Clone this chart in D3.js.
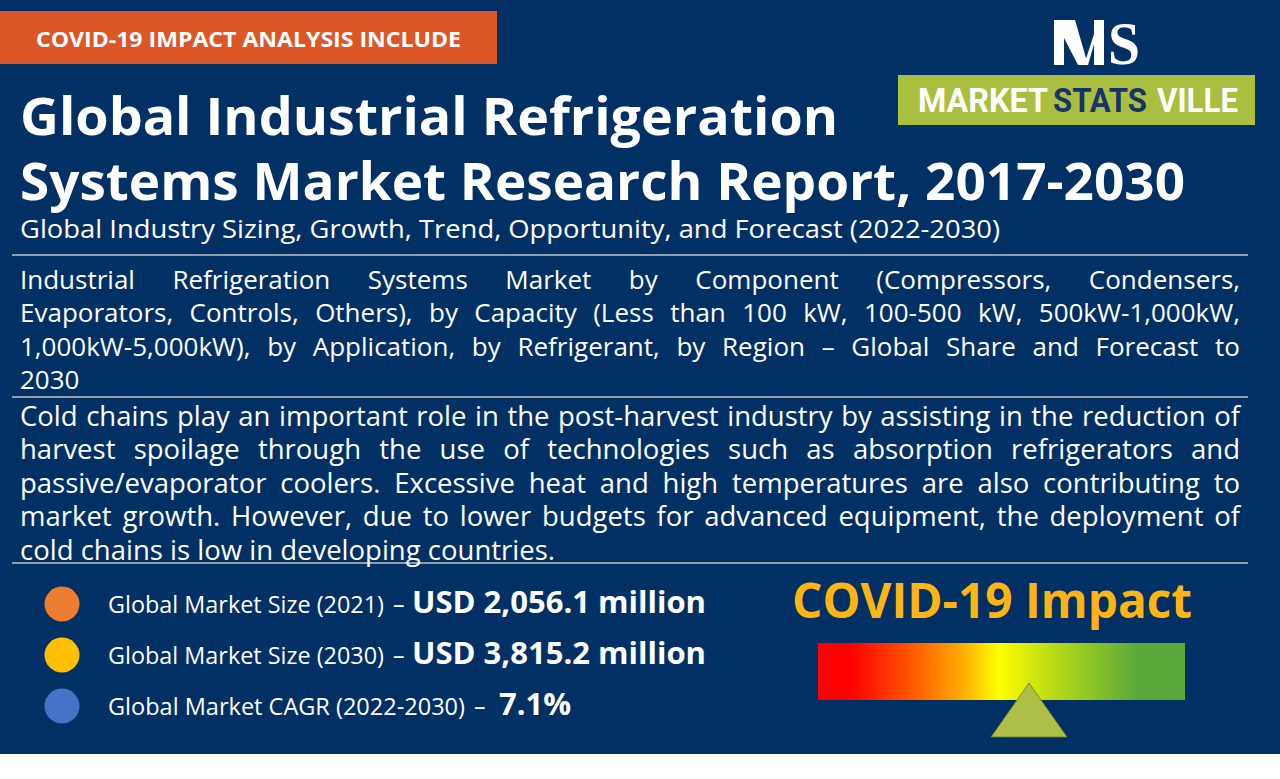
<!DOCTYPE html>
<html><head><meta charset="utf-8">
<script src="https://cdn.jsdelivr.net/npm/d3@7"></script>
<style>
body{margin:0;background:#fff;overflow:hidden}
svg{display:block}
</style>
</head><body>
<svg id="c" width="1280" height="779" font-family="'Open Sans','Noto Sans',sans-serif"></svg>
<script>
// ---------- content ----------
const bannerText = "COVID-19 IMPACT ANALYSIS INCLUDE";
const titleLines = ["Global Industrial Refrigeration", "Systems Market Research Report, 2017-2030"];
const subtitleText = "Global Industry Sizing, Growth, Trend, Opportunity, and Forecast (2022-2030)";
const scopeLines = [
  "Industrial Refrigeration Systems Market by Component (Compressors, Condensers,",
  "Evaporators, Controls, Others), by Capacity (Less than 100 kW, 100-500 kW, 500kW-1,000kW,",
  "1,000kW-5,000kW), by Application, by Refrigerant, by Region \u2013 Global Share and Forecast to",
  "2030"
];
const summaryLines = [
  "Cold chains play an important role in the post-harvest industry by assisting in the reduction of",
  "harvest spoilage through the use of technologies such as absorption refrigerators and",
  "passive/evaporator coolers. Excessive heat and high temperatures are also contributing to",
  "market growth. However, due to lower budgets for advanced equipment, the deployment of",
  "cold chains is low in developing countries."
];
const statLabels = ["Global Market Size (2021)", "Global Market Size (2030)", "Global Market CAGR (2022-2030)"];
const statValues = ["USD 2,056.1 million", "USD 3,815.2 million", "7.1%"];
const statColors = ["#ED7D31", "#FFC000", "#4472C4"];
const impactTitle = "COVID-19 Impact";
const impactStopOffsets = [0, 0.09, 0.24, 0.40, 0.49, 0.63, 0.87, 1];
const impactStopColors = ["#FF0000", "#FF0000", "#FF5000", "#FFB000", "#FFFF00", "#BEDD14", "#58A93A", "#58A93A"];
const impactLevel = 0.575;
const logoWords = ["MARKET", "STATS", "VILLE"];
const logoWordColors = ["#FFFFFF", "#16336A", "#FFFFFF"];

// ---------- drawing ----------
const NAVY = "#013064";
const svg = d3.select("#c");
svg.append("rect").attr("width", 1280).attr("height", 779).attr("fill", "#fff");
svg.append("rect").attr("width", 1280).attr("height", 754).attr("fill", NAVY);

// banner
svg.append("rect").attr("x", 0).attr("y", 11).attr("width", 497).attr("height", 53).attr("fill", "#DD5627");
svg.append("text").attr("x", 36).attr("y", 47).attr("font-size", 22).attr("font-weight", 700)
  .attr("fill", "#fff").attr("textLength", 425).attr("lengthAdjust", "spacingAndGlyphs").text(bannerText);

// logo
const logo = svg.append("g");
const M = logo.append("g").attr("fill", "#fff");
M.append("path").attr("d", d3.line()([[1054,20],[1064,20],[1064,65],[1054,65]]) + "Z");
M.append("path").attr("d", d3.line()([[1064,20],[1075,20],[1088,65],[1078,65],[1064,38]]) + "Z");
M.append("path").attr("d", d3.line()([[1084,65],[1094,34],[1094,44],[1088,65]]) + "Z");
M.append("path").attr("d", d3.line()([[1094,20],[1104,20],[1104,65],[1094,65]]) + "Z");
logo.append("text").attr("x", 1108).attr("y", 64).attr("font-family", "'Liberation Serif','DejaVu Serif',serif")
  .attr("font-size", 62).attr("font-weight", 700).attr("fill", "#fff")
  .attr("textLength", 32).attr("lengthAdjust", "spacingAndGlyphs").text("S");
logo.append("rect").attr("x", 898).attr("y", 75).attr("width", 357).attr("height", 50).attr("fill", "#AABE3F");
const logoX = [918, 1053, 1157], logoW = [130, 94, 81];
logo.selectAll("text.lw").data(logoWords).join("text").attr("class", "lw")
  .attr("x", (d, i) => logoX[i]).attr("y", 112)
  .attr("font-family", "Roboto,'Liberation Sans',sans-serif").attr("font-weight", 700).attr("font-size", 33)
  .attr("fill", (d, i) => logoWordColors[i])
  .attr("textLength", (d, i) => logoW[i]).attr("lengthAdjust", "spacingAndGlyphs").text(d => d);

// title
const titleW = [818, 1165];
svg.selectAll("text.title").data(titleLines).join("text").attr("class", "title")
  .attr("x", 20).attr("y", (d, i) => 135 + i * 65)
  .attr("font-size", 52).attr("font-weight", 700).attr("fill", "#fff")
  .attr("textLength", (d, i) => titleW[i]).attr("lengthAdjust", "spacingAndGlyphs").text(d => d);

svg.append("text").attr("x", 20).attr("y", 238).attr("font-size", 26).attr("fill", "#fff")
  .attr("textLength", 980).attr("lengthAdjust", "spacingAndGlyphs").text(subtitleText);

// separators
[255, 397, 563].forEach(y => svg.append("line").attr("x1", 12).attr("x2", 1248).attr("y1", y).attr("y2", y)
  .attr("stroke", "#C6C1BC").attr("stroke-width", 1.6));

// justified paragraphs
function justify(lines, x0, x1, y0, lh, fs) {
  const g = svg.append("g").attr("fill", "#fff").attr("font-size", fs);
  const probe = g.append("text").text("a a");
  const probe2 = g.append("text").text("aa");
  const space = probe.node().getComputedTextLength() - probe2.node().getComputedTextLength();
  probe.remove(); probe2.remove();
  lines.forEach((line, i) => {
    const y = y0 + i * lh;
    const words = line.split(" ");
    const last = i === lines.length - 1;
    const ts = words.map(w => g.append("text").attr("y", y).text(w));
    const widths = ts.map(t => t.node().getComputedTextLength());
    const sum = d3.sum(widths);
    const avail = x1 - x0;
    const k = last ? 1 : Math.min(1, (avail - space * 0.8 * (words.length - 1)) / sum);
    const gap = last ? space : (avail - sum * k) / Math.max(1, words.length - 1);
    let x = x0;
    ts.forEach((t, j) => {
      t.attr("x", x);
      if (k < 1) t.attr("textLength", widths[j] * k).attr("lengthAdjust", "spacingAndGlyphs");
      x += widths[j] * k + gap;
    });
  });
}
justify(scopeLines, 20, 1240, 289, 33.4, 26);
justify(summaryLines, 20, 1240, 426, 33.4, 27.5);

// stats
const yRow = d3.scalePoint().domain(statLabels).range([604, 706]);
const rows = svg.selectAll("g.stat").data(statLabels).join("g").attr("class", "stat");
rows.append("circle").attr("cx", 62).attr("cy", d => yRow(d)).attr("r", 17.5)
  .attr("fill", (d, i) => statColors[i]);
const labelW = [276, 276, 357];
rows.append("text").attr("x", 108).attr("y", d => yRow(d) + 9).attr("font-size", 24).attr("fill", "#fff")
  .attr("textLength", (d, i) => labelW[i]).attr("lengthAdjust", "spacingAndGlyphs").text(d => d);
rows.append("text").attr("x", (d, i) => 108 + labelW[i] + 9).attr("y", d => yRow(d) + 9)
  .attr("font-size", 23).attr("fill", "#fff").text("\u2013");
const valueX = [412, 412, 499], valueW = [294, 294, 72];
rows.append("text").attr("x", (d, i) => valueX[i]).attr("y", d => yRow(d) + 9)
  .attr("font-size", 31).attr("font-weight", 700).attr("fill", "#fff")
  .attr("textLength", (d, i) => valueW[i]).attr("lengthAdjust", "spacingAndGlyphs")
  .text((d, i) => statValues[i]);

// COVID impact gauge
svg.append("text").attr("x", 792).attr("y", 618).attr("font-size", 48).attr("font-weight", 700)
  .attr("fill", "#FDB515").attr("textLength", 400).attr("lengthAdjust", "spacingAndGlyphs").text(impactTitle);
const gx = d3.scaleLinear().domain([0, 1]).range([818, 1185]);
const grad = svg.append("defs").append("linearGradient").attr("id", "imp")
  .attr("x1", "0%").attr("x2", "100%").attr("y1", "0%").attr("y2", "0%");
grad.selectAll("stop").data(impactStopOffsets).join("stop")
  .attr("offset", d => d).attr("stop-color", (d, i) => impactStopColors[i]);
svg.append("rect").attr("x", gx(0)).attr("y", 643).attr("width", gx(1) - gx(0)).attr("height", 57)
  .attr("fill", "url(#imp)");
const ax = gx(impactLevel);
svg.append("path").attr("d", d3.line()([[ax, 683], [ax + 38, 737], [ax - 38, 737]]) + "Z")
  .attr("fill", "#ADBF45").attr("stroke", "#6E7A2C").attr("stroke-width", 0.8);
</script>
</body></html>
